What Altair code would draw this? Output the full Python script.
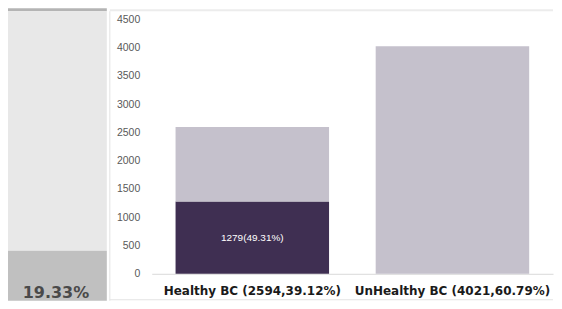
import altair as alt
import pandas as pd

categories = ["Healthy BC (2594,39.12%)", "UnHealthy BC (4021,60.79%)"]
seg_start = [0, 1279, 0]
seg_end = [1279, 2594, 4021]
seg_cat = [categories[0], categories[0], categories[1]]
seg_kind = ["dark", "light", "light"]
inner_label = "1279(49.31%)"
inner_value = 1279
side_label = "19.33%"
y_ticks = [0, 500, 1000, 1500, 2000, 2500, 3000, 3500, 4000, 4500]

W, H = 402, 255

bars_df = pd.DataFrame({"cat": seg_cat, "start": seg_start, "end": seg_end, "kind": seg_kind})
lab_df = pd.DataFrame({"cat": [categories[0]], "mid": [inner_value / 2], "t": [inner_label]})

xscale = alt.Scale(domain=categories, paddingInner=0.233, paddingOuter=0.119)
yscale = alt.Scale(domain=[0, 4500], nice=False)

x_axis = alt.Axis(title=None, labelAngle=0, labelFont="DejaVu Sans", labelFontWeight="bold",
                  labelFontSize=12, labelColor="#1a1a1a", ticks=False, labelPadding=12,
                  labelLimit=0, domainColor="#d9d9d9", domainWidth=1)
y_axis = alt.Axis(title=None, values=y_ticks, format="d", labelOverlap=False, grid=False,
                  domain=False, ticks=False, labelFont="Liberation Sans", labelFontSize=10.5,
                  labelColor="#595959", labelPadding=12)

bars = alt.Chart(bars_df).mark_bar().encode(
    x=alt.X("cat:N", scale=xscale, sort=categories, axis=x_axis),
    y=alt.Y("start:Q", scale=yscale, axis=y_axis),
    y2="end:Q",
    color=alt.Color("kind:N", scale=alt.Scale(domain=["dark", "light"], range=["#3f2f52", "#c5c1cc"]),
                    legend=None),
)

inner = alt.Chart(lab_df).mark_text(color="white", font="Liberation Sans", fontSize=10).encode(
    x=alt.X("cat:N", scale=xscale, sort=categories, axis=x_axis),
    y=alt.Y("mid:Q", scale=yscale, axis=y_axis),
    text="t:N",
)

deco = pd.DataFrame({"d": [0]})
base = alt.Chart(deco)
panel_light = base.mark_rect(color="#e8e8e8").encode(
    x=alt.value(-144), x2=alt.value(-45), y=alt.value(-8), y2=alt.value(232))
panel_dark = base.mark_rect(color="#c0c0c0").encode(
    x=alt.value(-144), x2=alt.value(-45), y=alt.value(232), y2=alt.value(282))
panel_top = base.mark_rect(color="#b4b4b4").encode(
    x=alt.value(-144), x2=alt.value(-45), y=alt.value(-11), y2=alt.value(-8))
side_text = base.mark_text(text=side_label, font="DejaVu Sans", fontWeight="bold", fontSize=16,
                           color="#4a4a4a", baseline="middle").encode(
    x=alt.value(-96), y=alt.value(274))
vline = base.mark_rule(color="#e3e3e3").encode(
    x=alt.value(-42), y=alt.value(-8), y2=alt.value(282))
top1 = base.mark_rule(color="#ececec", strokeWidth=2).encode(
    x=alt.value(-42), x2=alt.value(W), y=alt.value(-9))
bottom = base.mark_rule(color="#e3e3e3").encode(
    x=alt.value(-42), x2=alt.value(W), y=alt.value(281))

chart = alt.layer(panel_top, panel_light, panel_dark, side_text, vline, top1, bottom, bars, inner).properties(
    width=W, height=H, padding=0
).configure_view(stroke=None)

chart.save("out.html", embed_options={"renderer": "svg", "actions": False})
